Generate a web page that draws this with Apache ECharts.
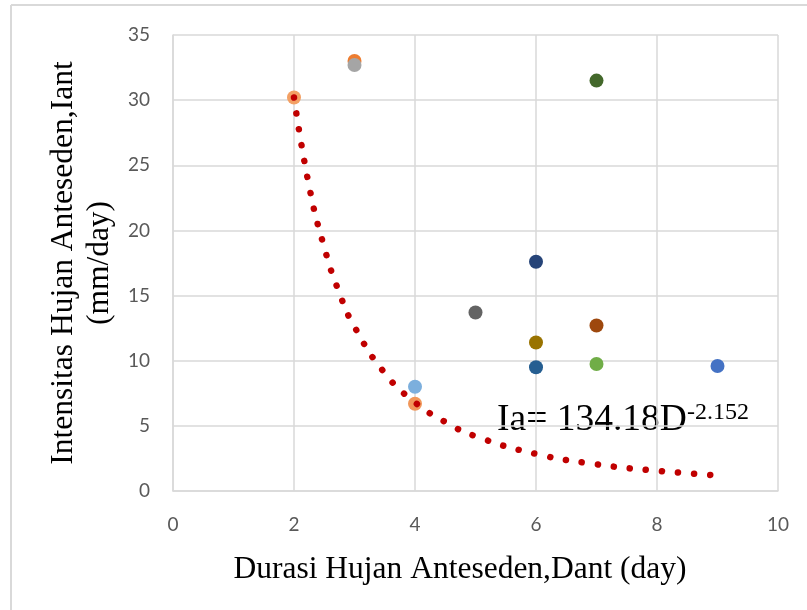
<!DOCTYPE html>
<html>
<head>
<meta charset="utf-8">
<script src="https://cdn.jsdelivr.net/npm/echarts@6/dist/echarts.min.js"></script>
<style>
  html, body { margin: 0; padding: 0; background: #fff; }
  #chart { width: 807px; height: 610px; }
</style>
</head>
<body>
<div id="chart"></div>
<script>
// titik pengamatan (durasi hari, intensitas mm/hari)
var durasi     = [9, 3, 3, 7, 6, 7, 5, 6, 6, 7, 2, 4, 4];
var intensitas = [9.6, 33.0, 32.7, 9.75, 17.6, 12.7, 13.7, 11.4, 9.5, 31.5, 30.2, 6.7, 8.0];
var warnaTitik = ['#4472C4', '#ED7D31', '#A5A5A5', '#70AD47', '#264478', '#9E480E', '#636363',
                  '#997300', '#255E91', '#43682B', '#F3A064', '#F1975A', '#7CAFDD'];

// garis trend (dibaca dari kurva titik-titik merah)
var trendX = [2, 2.25, 2.5, 2.75, 3, 3.5, 4, 4.5, 5, 6, 7, 8, 9];
var trendY = [30.2, 23.4, 18.7, 15.2, 12.6, 9.05, 6.8, 5.3, 4.2, 2.85, 2.05, 1.55, 1.2];

var xTicks = [0, 2, 4, 6, 8, 10];
var yTicks = [0, 5, 10, 15, 20, 25, 30, 35];

var chart = echarts.init(document.getElementById('chart'));

var titik = durasi.map(function (d, i) {
  return { value: [d, intensitas[i]], itemStyle: { color: warnaTitik[i], opacity: 1 } };
});
var trend = trendX.map(function (d, i) { return [d, trendY[i]]; });

var gridLine = { show: true, lineStyle: { color: '#d9d9d9', width: 1.5 } };
var tickFont = { color: '#595959', fontSize: 19, fontFamily: 'Lato' };

chart.setOption({
  animation: false,
  backgroundColor: '#fff',
  grid: { left: 173, right: 29, top: 35, bottom: 119 },
  xAxis: {
    type: 'value',
    min: xTicks[0],
    max: xTicks[xTicks.length - 1],
    interval: 2,
    axisLine: { show: true, lineStyle: { color: '#d9d9d9', width: 1.5 } },
    axisTick: { show: false },
    splitLine: gridLine,
    axisLabel: Object.assign({ margin: 24 }, tickFont)
  },
  yAxis: {
    type: 'value',
    min: yTicks[0],
    max: yTicks[yTicks.length - 1],
    interval: 5,
    axisLine: { show: true, lineStyle: { color: '#d9d9d9', width: 1.5 } },
    axisTick: { show: false },
    splitLine: gridLine,
    axisLabel: Object.assign({ margin: 23 }, tickFont)
  },
  series: [
    {
      type: 'scatter',
      data: titik,
      symbolSize: 14,
      z: 2
    },
    {
      type: 'line',
      data: trend,
      smooth: true,
      showSymbol: false,
      z: 3,
      lineStyle: { color: '#C00000', width: 6.5, type: [0.1, 16], cap: 'round' }
    }
  ],
  graphic: [
    // bingkai luar
    { type: 'line', shape: { x1: 11, y1: 5, x2: 807, y2: 5 }, style: { stroke: '#d9d9d9', lineWidth: 2 } },
    { type: 'line', shape: { x1: 11, y1: 5, x2: 11, y2: 610 }, style: { stroke: '#d9d9d9', lineWidth: 2 } },
    // judul sumbu Y
    {
      type: 'text', x: 64, y: 263, rotation: Math.PI / 2,
      style: { text: 'Intensitas Hujan Anteseden,Iant', font: '31.5px "Liberation Serif"', fill: '#000', align: 'center', verticalAlign: 'middle' }
    },
    {
      type: 'text', x: 100, y: 263, rotation: Math.PI / 2,
      style: { text: '(mm/day)', font: '31.5px "Liberation Serif"', fill: '#000', align: 'center', verticalAlign: 'middle' }
    },
    // judul sumbu X
    {
      type: 'text', x: 460, y: 570,
      style: { text: 'Durasi Hujan Anteseden,Dant (day)', font: '31.5px "Liberation Serif"', fill: '#000', align: 'center', verticalAlign: 'middle' }
    },
    // persamaan trend
    {
      type: 'text', x: 497, y: 420,
      style: { text: 'Ia= 134.18D', font: '37.5px "Liberation Serif"', fill: '#000', align: 'left', verticalAlign: 'middle' }
    },
    {
      type: 'text', x: 687, y: 413,
      style: { text: '-2.152', font: '24px "Liberation Serif"', fill: '#000', align: 'left', verticalAlign: 'middle' }
    }
  ]
});
</script>
</body>
</html>
